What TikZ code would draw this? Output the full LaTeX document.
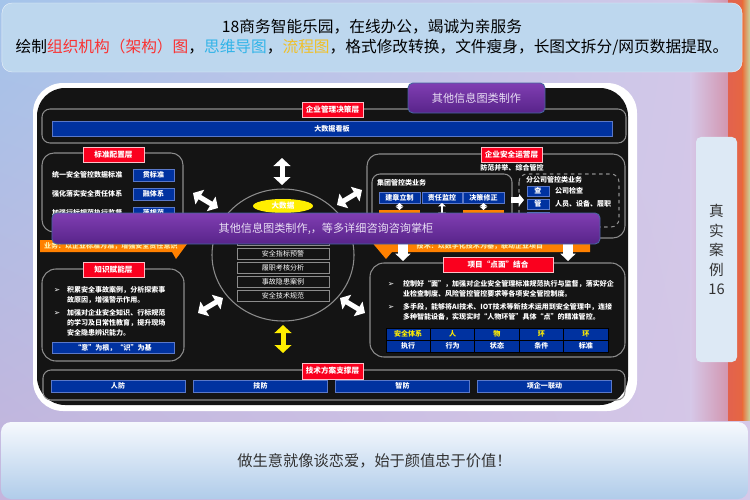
\documentclass[tikz,border=0pt]{standalone}
\usepackage{fontspec}
\setmainfont{Noto Sans CJK SC}
\newfontfamily\symfont{DejaVu Sans}
\usetikzlibrary{arrows.meta,shapes.geometric,shadings}
\usepackage{xcolor}
\definecolor{bgblue}{RGB}{164,196,234}
\definecolor{bglav}{RGB}{214,200,232}
\definecolor{bglavlow}{RGB}{198,180,220}
\definecolor{stripmauve}{RGB}{210,150,176}
\definecolor{stripred}{RGB}{226,98,78}
\definecolor{stripgreen}{RGB}{200,214,160}
\definecolor{bannerblue}{RGB}{189,215,238}
\definecolor{txtred}{RGB}{250,50,50}
\definecolor{txtcyan}{RGB}{50,180,232}
\definecolor{txtgold}{RGB}{240,192,40}
\definecolor{panelblack}{RGB}{20,20,20}
\definecolor{grpgrey}{RGB}{140,140,140}
\definecolor{lblred}{RGB}{250,0,30}
\definecolor{boxblue}{RGB}{0,50,160}
\definecolor{boxline}{RGB}{90,120,200}
\definecolor{flagorange}{RGB}{255,128,0}
\definecolor{flagtext}{RGB}{255,240,170}
\definecolor{dataylw}{RGB}{255,238,0}
\definecolor{purptop}{RGB}{128,62,178}
\definecolor{purpbot}{RGB}{88,36,138}
\definecolor{purpline}{RGB}{70,100,160}
\definecolor{purptext}{RGB}{232,222,244}
\definecolor{casebox}{RGB}{221,233,245}
\definecolor{foottop}{RGB}{246,249,253}
\definecolor{footlow}{RGB}{176,204,234}
\definecolor{foottext}{RGB}{50,50,50}

\begin{document}
\begin{tikzpicture}[x=0.03cm, y=-0.03cm,
    every node/.style={inner sep=0pt, outer sep=0pt},
    grp/.style={draw=grpgrey, line width=0.9pt, rounded corners=#1},
    redlbl/.style={fill=lblred, draw=white!75!lblred, line width=0.4pt, text=white,
        font=\fontsize{6.5}{8}\selectfont\bfseries, minimum width=1.83cm, minimum height=0.45cm},
    bluebox/.style={fill=boxblue, draw=boxline, line width=0.5pt, text=white,
        font=\fontsize{6}{7}\selectfont\bfseries, minimum height=0.33cm},
    cell/.style={fill=boxblue, draw=black, line width=0.8pt, text=white,
        font=\fontsize{6}{7}\selectfont\bfseries, minimum width=1.332cm, minimum height=0.36cm},
    listbox/.style={fill=panelblack, draw=grpgrey, line width=0.8pt, text=white,
        font=\fontsize{6}{7}\selectfont, minimum width=2.76cm, minimum height=0.33cm},
    ptxt/.style={text=white, font=\fontsize{6}{8.5}\selectfont\bfseries, align=left},
    bullet/.style={text=white, font=\fontsize{6.5}{7}\symfont},
    flagtxt/.style={text=flagtext, font=\fontsize{6}{7}\selectfont\bfseries},
    purpbar/.style={top color=purptop, bottom color=purpbot, draw=purpline, line width=0.8pt,
        rounded corners=0.15cm, text=purptext, font=\fontsize{9.5}{11}\selectfont},
    fatdbl/.style={line width=0.15cm, {Triangle[length=0.24cm,width=0.5cm]}-{Triangle[length=0.24cm,width=0.5cm]}},
    smalldbl/.style={white, line width=0.07cm, {Triangle[length=0.1cm,width=0.22cm]}-{Triangle[length=0.1cm,width=0.22cm]}},
    fatone/.style={white, line width=#1, -{Triangle[length=0.22cm,width=0.45cm]}}
]

    % --- fondo ---
    \shade[upper left=bgblue, upper right=bglav, lower left=bglavlow, lower right=bglav]
        (0,0) rectangle (750,499);
    \shade[left color=bglav, right color=stripmauve] (690,0) rectangle (728,420);
    \shade[left color=stripred, right color=stripred!85!orange] (728,0) rectangle (742,420);
    \shade[left color=stripred!70!orange, right color=stripgreen] (742,0) rectangle (750,420);

    % --- cabecera ---
    \node[fill=bannerblue, draw=white!60!bannerblue, rounded corners=0.3cm,
          minimum width=22.2cm, minimum height=2.07cm, align=center,
          font=\fontsize{13.4}{17}\selectfont] (header) at (372,37.5)
        {18商务智能乐园，在线办公，竭诚为亲服务\\
         绘制\textcolor{txtred}{组织机构（架构）图}，\textcolor{txtcyan}{思维导图}，\textcolor{txtgold}{流程图}，格式修改转换，文件瘦身，长图文拆分/网页数据提取。};

    % --- panel negro ---
    \fill[white, rounded corners=0.9cm] (33,83) rectangle (637,411);
    \fill[panelblack, rounded corners=0.84cm] (37,88) rectangle (628,405);

    % --- capa de decision ---
    \draw[grp=0.24cm] (42,109) rectangle (626,143);
    \node[redlbl] (mgmtLbl) at (332.5,109.5) {企业管理决策层};
    \node[bluebox, minimum width=16.8cm, minimum height=0.45cm] (dataBoard) at (332,128.5) {大数据看板};

    % --- capa de normas ---
    \draw[grp=0.36cm] (42,153) rectangle (183,232);
    \node[redlbl] (stdLbl) at (113.5,154.5) {标准配置层};
    \node[ptxt, anchor=west] (stdT1) at (52,175) {统一安全管控数据标准};
    \node[ptxt, anchor=west] (stdT2) at (52,194) {强化落实安全责任体系};
    \node[ptxt, anchor=west] (stdT3) at (52,213) {加强行标规范执行监督};
    \node[bluebox, minimum width=1.23cm, minimum height=0.36cm] (stdB1) at (153.5,175) {贯标准};
    \node[bluebox, minimum width=1.23cm, minimum height=0.36cm] (stdB2) at (153.5,194) {融体系};
    \node[bluebox, minimum width=1.23cm, minimum height=0.36cm] (stdB3) at (153.5,213) {落规范};

    % --- banderas naranjas ---
    \fill[flagorange] (40,240) -- (190,240) -- (176,259) -- (172,252) -- (40,252) -- cycle;
    \node[flagtxt, anchor=west] (bizFlag) at (44,246) {业务：以企业标准为准，增强安全责任意识};
    \fill[flagorange] (370,240) -- (590,240) -- (590,252) -- (392,252) -- (386,259) -- cycle;
    \node[flagtxt] (techFlag) at (480,246) {技术：以数字化技术为基，联动企业项目};

    % --- capa de operacion ---
    \draw[grp=0.36cm] (367,154) rectangle (625,238);
    \node[redlbl] (opsLbl) at (511.5,154.5) {企业安全运营层};
    \node[ptxt] (opsSub) at (512,167.5) {防范并举、综合管控};
    \draw[grp=0.24cm] (372,174) rectangle (512,236);
    \node[ptxt, anchor=west] (grpTitle) at (377,183) {集团管控类业务};
    \node[bluebox, minimum width=1.23cm] (grpB1) at (399.5,197.5) {建章立制};
    \node[bluebox, minimum width=1.2cm] (grpB2) at (442,197.5) {责任监控};
    \node[bluebox, minimum width=1.23cm] (grpB3) at (483.5,197.5) {决策修正};
    \node[fill=flagorange, minimum width=1.23cm, minimum height=0.42cm] (grpO1) at (399.5,217) {};
    \node[fill=flagorange, minimum width=1.23cm, minimum height=0.42cm] (grpO3) at (483.5,217) {};
    \draw[smalldbl] (grpB1.south) -- (grpO1.north);
    \draw[smalldbl] (grpB3.south) -- (grpO3.north);
    \coordinate (grpMid) at (442,216);
    \draw[smalldbl] (grpB2.south) -- (grpMid);
    \draw[grp=0.24cm, dashed] (519,174) rectangle (619,227);
    \node[ptxt, anchor=west] (subTitle) at (526,180) {分公司管控类业务};
    \node[bluebox, minimum width=0.66cm, minimum height=0.3cm] (subB1) at (538,191) {查};
    \node[bluebox, minimum width=0.66cm, minimum height=0.3cm] (subB2) at (538,204) {管};
    \node[bluebox, minimum width=0.66cm, minimum height=0.3cm] (subB3) at (538,217) {督};
    \node[ptxt, anchor=west] (subT1) at (555,191) {公司检查};
    \node[ptxt, anchor=west] (subT2) at (555,204) {人员、设备、履职};
    \node[ptxt, anchor=west] (subT3) at (555,217) {落标准};
    \coordinate (grpOut) at (511,200);
    \coordinate (subIn) at (524,200);
    \draw[white, line width=0.16cm, -{Triangle[length=0.15cm,width=0.36cm]}] (grpOut) -- (subIn);

    % --- nucleo central ---
    \draw[grpgrey, line width=0.9pt] (283,255) ellipse [x radius=71, y radius=66];
    \node[ellipse, fill=dataylw, text=white, minimum width=1.8cm, minimum height=0.42cm,
          font=\fontsize{6.5}{7}\selectfont\bfseries] (bigData) at (283,206) {大数据};
    \foreach \i/\t in {0/,1/安全指标预警,2/履职考核分析,3/事故隐患案例,4/安全技术规范}
        \node[listbox] (core\i) at (283,{239.5+14*\i}) {\t};

    % --- flechas blancas ---
    \coordinate (aT1) at (282,158);  \coordinate (aT2) at (282,185);
    \coordinate (aUL1) at (193,193); \coordinate (aUL2) at (218,208);
    \coordinate (aUR1) at (337,205); \coordinate (aUR2) at (362,190);
    \coordinate (aLL1) at (198,313); \coordinate (aLL2) at (223,298);
    \coordinate (aLR1) at (340,298); \coordinate (aLR2) at (365,313);
    \coordinate (aB1) at (283,325);  \coordinate (aB2) at (283,353);
    \draw[fatdbl, white] (aT1) -- (aT2);
    \draw[fatdbl, white] (aUL1) -- (aUL2);
    \draw[fatdbl, white] (aUR1) -- (aUR2);
    \draw[fatdbl, white] (aLL1) -- (aLL2);
    \draw[fatdbl, white] (aLR1) -- (aLR2);
    \draw[fatdbl, dataylw] (aB1) -- (aB2);
    \coordinate (dnA1) at (403,236); \coordinate (dnA2) at (403,261);
    \coordinate (dnB1) at (568,236); \coordinate (dnB2) at (568,261);
    \draw[fatone=0.28cm] (dnA1) -- (dnA2);
    \draw[fatone=0.28cm] (dnB1) -- (dnB2);

    % --- capa de conocimiento ---
    \draw[grp=0.42cm] (42,269) rectangle (184,361);
    \node[redlbl] (knowLbl) at (113.5,269.5) {知识赋能层};
    \node[bullet] (knowM1) at (57,290) {➢};
    \node[bullet] (knowM2) at (57,313) {➢};
    \node[ptxt, anchor=west] (knowT1) at (67,295) {积累安全事故案例，分析探索事\\故原因，增强警示作用。};
    \node[ptxt, anchor=west] (knowT2) at (67,323) {加强对企业安全知识、行标规范\\的学习及日常性教育，提升现场\\安全隐患辨识能力。};
    \node[bluebox, minimum width=3.66cm] (knowBar) at (113,347.5) {“意”为根，“识”为基};

    % --- proyecto ---
    \draw[grp=0.42cm] (370,263) rectangle (625,357);
    \node[redlbl, minimum width=3.3cm] (projLbl) at (498,264.5) {项目“点面”结合};
    \node[bullet] (projM1) at (391,284) {➢};
    \node[bullet] (projM2) at (391,307) {➢};
    \node[ptxt, anchor=west] (projT1) at (403,289) {控制好“面”，加强对企业安全管理标准规范执行与监督，落实好企\\业检查制度、风险管控管控要求等各项安全管控制度。};
    \node[ptxt, anchor=west] (projT2) at (403,312) {多手段，能够将AI技术、IOT技术等新技术运用到安全管理中，连接\\多种智能设备，实现实时“人物环管”具体“点”的精准管控。};
    \foreach \i/\a/\b in {0/安全体系/执行,1/人/行为,2/物/状态,3/环/条件,4/环/标准} {
        \node[cell, text=dataylw] (tabA\i) at ({408.2+44.4*\i},334) {\a};
        \node[cell] (tabB\i) at ({408.2+44.4*\i},346) {\b};
    }

    % --- capa tecnica ---
    \draw[grp=0.24cm] (43,370) rectangle (625,400);
    \node[redlbl, minimum height=0.48cm] (techLbl) at (332.5,371) {技术方案支撑层};
    \foreach \i/\t/\x in {0/人防/118,1/技防/260.5,2/智防/402.5,3/项企一联动/544.5}
        \node[bluebox, minimum width=4.02cm, minimum height=0.36cm] (techB\i) at (\x,386) {\t};

    % --- rotulos morados ---
    \node[purpbar, minimum width=16.44cm, minimum height=0.93cm] (infoBar) at (326,228.5)
        {其他信息图类制作,，等多详细咨询咨询掌柜};
    \node[purpbar, minimum width=4.11cm, minimum height=0.9cm] (infoTab) at (476.5,98)
        {其他信息图类制作};

    % --- caso real ---
    \node[fill=casebox, rounded corners=0.15cm, minimum width=1.23cm, minimum height=6.75cm,
          align=center, text=foottext, font=\fontsize{12.5}{16.6}\selectfont] (caseBox) at (716.5,249.5)
        {真\\实\\案\\例\\16};

    % --- pie ---
    \node[top color=foottop, bottom color=footlow, rounded corners=0.3cm,
          minimum width=22.41cm, minimum height=2.31cm, text=foottext,
          font=\fontsize{13}{15}\selectfont] (footer) at (374.5,460.5)
        {做生意就像谈恋爱，始于颜值忠于价值！};

\end{tikzpicture}
\end{document}
